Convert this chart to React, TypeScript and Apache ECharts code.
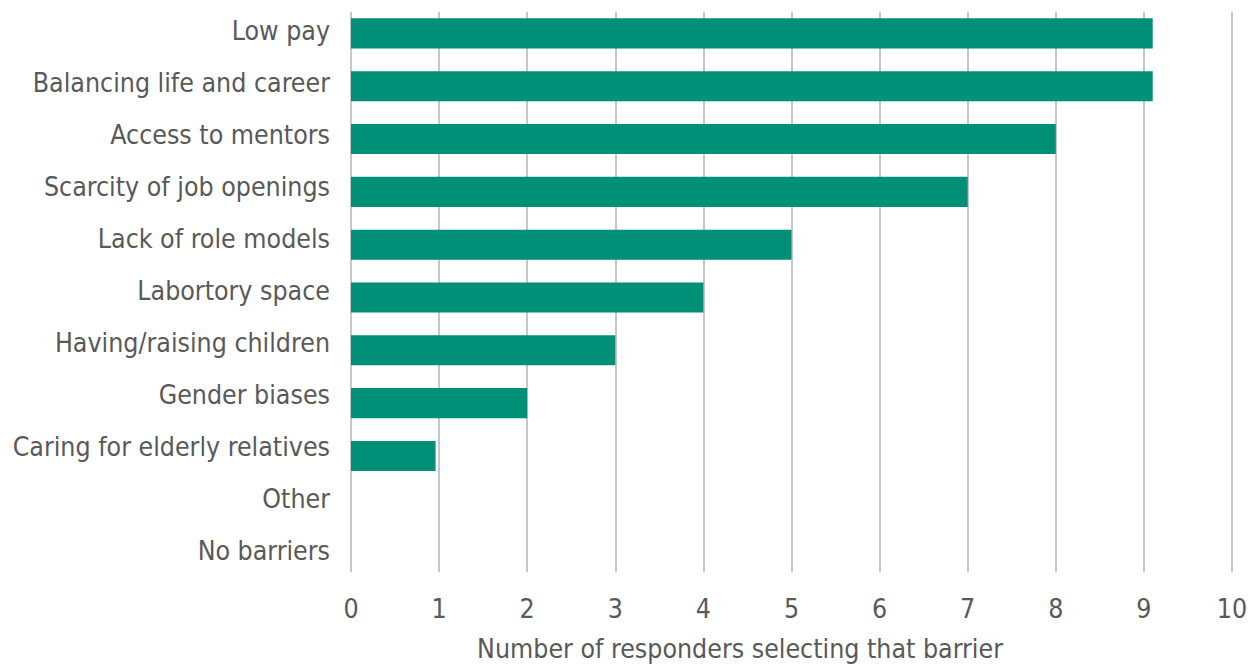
import React, { useEffect, useRef } from "react";
import * as echarts from "echarts";

const categories = [
  "Low pay",
  "Balancing life and career",
  "Access to mentors",
  "Scarcity of job openings",
  "Lack of role models",
  "Labortory space",
  "Having/raising children",
  "Gender biases",
  "Caring for elderly relatives",
  "Other",
  "No barriers",
];
const responders = [9.1, 9.1, 8, 7, 5, 4, 3, 2, 0.96, 0, 0];
const axisTitle = "Number of responders selecting that barrier";

const FONT = "'DejaVu Sans Condensed', 'Liberation Sans Narrow', 'Noto Sans', sans-serif";
const TEXT = "#595959";
const FS = 26.5;

export default function App() {
  const ref = useRef<HTMLDivElement>(null);
  useEffect(() => {
    if (!ref.current) return;
    const chart = echarts.init(ref.current, undefined, { renderer: "svg" });
    chart.setOption({
      animation: false,
      grid: [
        { left: 351, width: 881, top: 7, height: 581 },
        { left: 351, width: 881, top: 12, height: 560 },
        { left: 351, width: 881, top: 4, height: 572 },
      ],
      xAxis: [
        { type: "value", gridIndex: 0, min: 0, max: 10, show: false, splitLine: { show: false } },
        {
          type: "value",
          gridIndex: 1,
          min: 0,
          max: 10,
          interval: 1,
          axisLine: { show: false },
          axisTick: { show: false },
          splitLine: { show: true, lineStyle: { color: "#b5b5b5", width: 1.5 } },
          axisLabel: { fontSize: FS, color: TEXT, fontFamily: FONT, margin: 23 },
        },
        { type: "value", gridIndex: 2, min: 0, max: 10, show: false, splitLine: { show: false } },
      ],
      yAxis: [
        {
          type: "category",
          gridIndex: 0,
          data: categories,
          inverse: true,
          show: false,
        },
        { type: "value", gridIndex: 1, show: false, min: 0, max: 1 },
        {
          type: "category",
          gridIndex: 2,
          data: categories,
          inverse: true,
          axisLine: { show: false },
          axisTick: { show: false },
          splitLine: { show: false },
          axisLabel: {
            fontSize: FS,
            color: TEXT,
            fontFamily: FONT,
            margin: 21,
          },
        },
      ],
      series: [
        {
          type: "bar",
          xAxisIndex: 0,
          yAxisIndex: 0,
          data: responders,
          barCategoryGap: "43%",
          itemStyle: { color: "#009077" },
        },
        { type: "scatter", xAxisIndex: 1, yAxisIndex: 1, data: [] },
        { type: "scatter", xAxisIndex: 2, yAxisIndex: 2, data: [] },
      ],
      graphic: [
        {
          type: "text",
          x: 740,
          y: 648,
          style: {
            text: axisTitle,
            fontSize: FS,
            fill: TEXT,
            fontFamily: FONT,
            textAlign: "center",
            textVerticalAlign: "middle",
          },
        },
      ],
    });
    return () => chart.dispose();
  }, []);
  return (
    <div
      ref={ref}
      style={{ position: "fixed", left: 0, top: 0, width: 1257, height: 666, background: "#fff" }}
    />
  );
}
